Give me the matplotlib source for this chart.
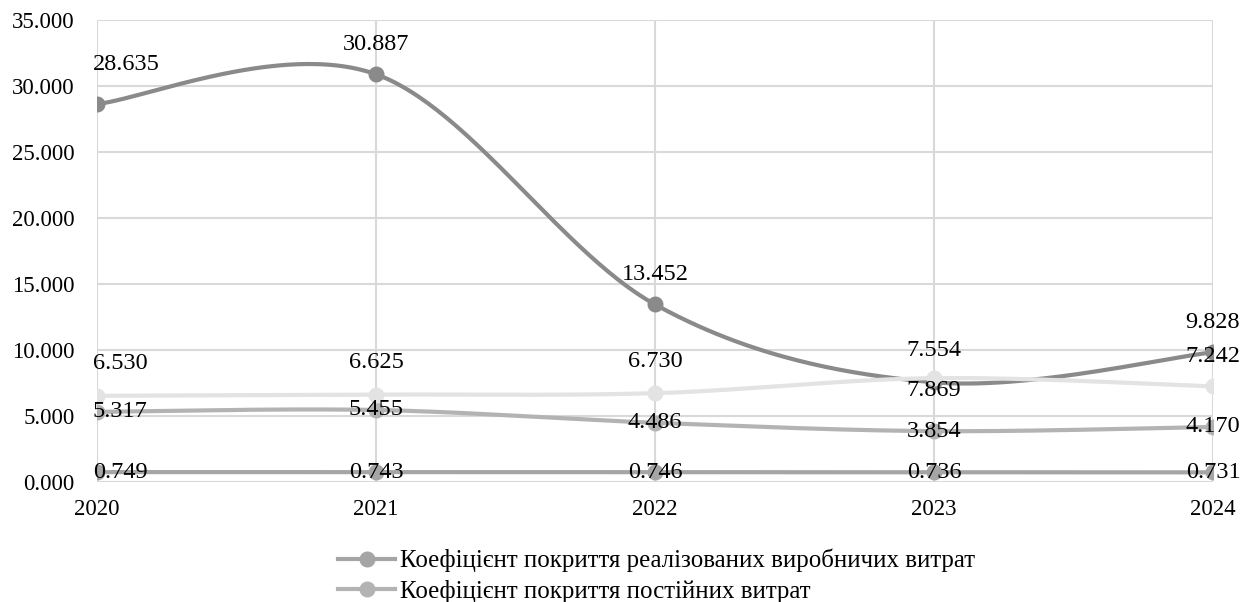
import matplotlib
import matplotlib.pyplot as plt
import numpy as np

matplotlib.use("Agg")

years = ["2020", "2021", "2022", "2023", "2024"]

# four coefficient series
realized = [0.749, 0.743, 0.746, 0.736, 0.731]
fixed = [5.317, 5.455, 4.486, 3.854, 4.170]
series3 = [28.635, 30.887, 13.452, 7.554, 9.828]
series4 = [6.530, 6.625, 6.730, 7.869, 7.242]

legend_names = [
    "Коефіцієнт покриття реалізованих виробничих витрат",
    "Коефіцієнт покриття постійних витрат",
]

plt.rcParams["font.family"] = ["Liberation Serif", "DejaVu Serif"]
plt.rcParams["font.size"] = 16.5


def smooth(xs, ys, n=60):
    # piecewise cubic bezier through the points (spreadsheet-style smoothing)
    pts = np.column_stack([xs, ys]).astype(float)
    out = []
    m = len(pts)
    for i in range(m - 1):
        p0 = pts[i - 1] if i > 0 else pts[i]
        p1 = pts[i]
        p2 = pts[i + 1]
        p3 = pts[i + 2] if i + 2 < m else pts[i + 1]
        c1 = p1 + (p2 - p0) / 6
        c2 = p2 - (p3 - p1) / 6
        t = np.linspace(0, 1, n)[:, None]
        seg = ((1 - t) ** 3) * p1 + 3 * ((1 - t) ** 2) * t * c1 \
            + 3 * (1 - t) * t ** 2 * c2 + t ** 3 * p2
        out.append(seg if i == 0 else seg[1:])
    out = np.vstack(out)
    return out[:, 0], out[:, 1]


fig = plt.figure(figsize=(12.55, 6.02), dpi=100)
ax = fig.add_axes([97 / 1255, 1 - 482 / 602, 1116 / 1255, 462 / 602])

x = np.arange(len(years))

styles = [
    (realized, "#a5a5a5", legend_names[0]),
    (fixed, "#b3b3b3", legend_names[1]),
    (series3, "#8a8a8a", None),
    (series4, "#e3e3e3", None),
]

handles = []
for vals, color, name in styles:
    sx, sy = smooth(x, vals)
    ax.plot(sx, sy, color=color, lw=3, solid_capstyle="round", zorder=3)
    ax.plot(x, vals, "o", color=color, ms=10.5, zorder=3)
    if name:
        lh, = ax.plot([], [], color=color, lw=3, marker="o", ms=10.5)
        handles.append((lh, name))

LABEL_SIZE = 17.5


# data labels: offsets in pixels relative to the point
def label(vals, dy_list):
    for i, (v, dy) in enumerate(zip(vals, dy_list)):
        if i == 0:
            ax.annotate(f"{v:.3f}", (x[i], v), xytext=(-3, -dy * 0.72),
                        textcoords="offset points", ha="left", va="center",
                        fontsize=LABEL_SIZE, zorder=5)
        else:
            ax.annotate(f"{v:.3f}", (x[i], v), xytext=(0, -dy * 0.72),
                        textcoords="offset points", ha="center", va="center",
                        fontsize=LABEL_SIZE, zorder=5)


label(realized, [0, 0, 0, 0, 0])
label(fixed, [0, 0, 0, 0, 0])
label(series3, [-40, -30, -30, -32, -30])
label(series4, [-32, -32, -32, 12, -30])

ax.set_xlim(0, 4)
ax.set_ylim(0, 35)
ax.set_yticks(np.arange(0, 36, 5))
ax.yaxis.set_major_formatter(matplotlib.ticker.FuncFormatter(lambda v, p: f"{v:.3f}"))
ax.set_xticks(x)
ax.set_xticklabels(years)
ax.tick_params(length=0)
ax.tick_params(axis="x", pad=12)
ax.tick_params(axis="y", pad=16)
ax.grid(True, color="#d9d9d9", lw=1.5)
ax.set_axisbelow(True)
for s in ax.spines.values():
    s.set_visible(False)

fig.legend([h for h, _ in handles], [n for _, n in handles],
           loc="upper left", bbox_to_anchor=(338 / 1255, 1 - 549 / 602),
           frameon=False, handlelength=2.3, handletextpad=0.2,
           labelspacing=0.3, borderpad=0, borderaxespad=0, fontsize=17.9)

fig.savefig("out.png", dpi=100)
